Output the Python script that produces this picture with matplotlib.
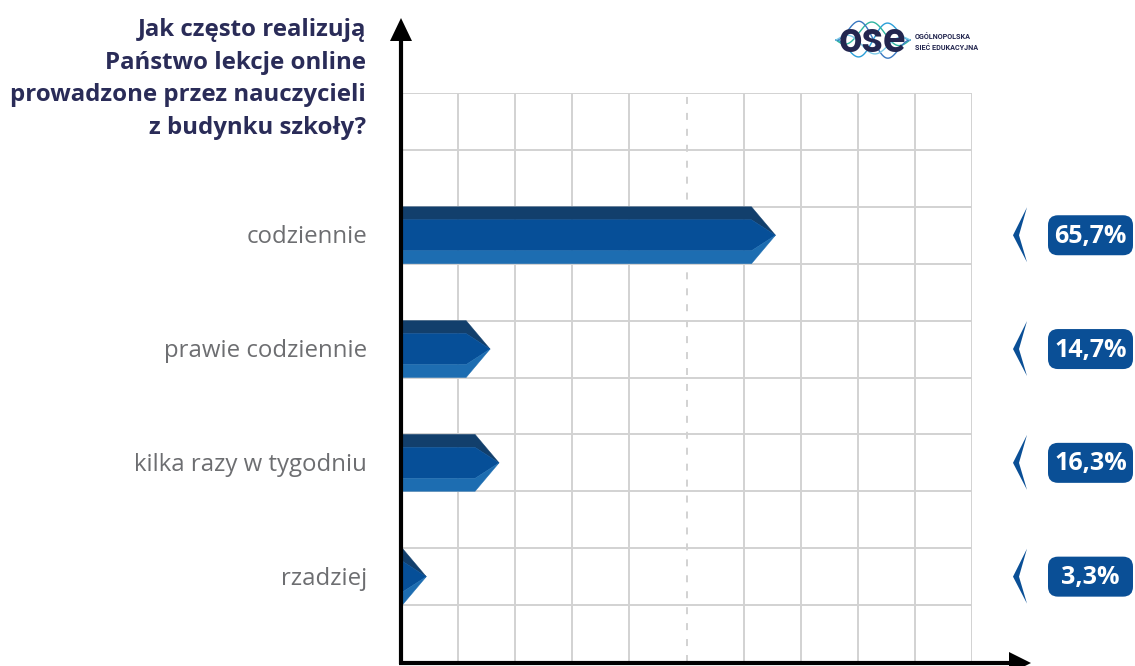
import matplotlib
matplotlib.use('Agg')
import matplotlib.pyplot as plt
from matplotlib.patches import Polygon, FancyBboxPatch
import numpy as np

# ---------------- data ----------------
categories = ['codziennie', 'prawie codziennie', 'kilka razy w tygodniu', 'rzadziej']
values = [65.7, 14.7, 16.3, 3.3]
value_labels = ['65,7%', '14,7%', '16,3%', '3,3%']
title_lines = ['Jak często realizują', 'Państwo lekcje online',
               'prowadzone przez nauczycieli', 'z budynku szkoły?']
row_positions = [7, 5, 3, 1]   # grid cell where each bar sits
logo_lines = ['OGÓLNOPOLSKA', 'SIEĆ EDUKACYJNA']

# ---------------- style ----------------
C_TOP = '#123f6c'
C_MID = '#064f98'
C_BOT = '#1d6db1'
C_BADGE = '#0a4f96'
C_GRID = '#d2d2d2'
C_TITLE = '#2a2c58'
C_LABEL = '#6d6e71'
FONT = ['Open Sans', 'DejaVu Sans']
NARROW = ['Liberation Sans Narrow', 'Roboto', 'DejaVu Sans']

W, H = 1135, 666
fig = plt.figure(figsize=(W / 100, H / 100), dpi=100)
fig.patch.set_facecolor('white')

# plotting area: 0..100 % horizontally, 10 grid cells vertically
ax = fig.add_axes([401 / W, 4 / H, 571 / W, 569 / H])
ax.set_xlim(0, 100)
ax.set_ylim(0, 10)
ax.axis('off')

for i in range(1, 11):
    ls = (0, (3.6, 4.6)) if i == 5 else '-'
    ax.plot([i * 10, i * 10], [0, 10], color=C_GRID, lw=1.4, ls=ls,
            zorder=1, solid_capstyle='butt')
for j in range(1, 11):
    ax.plot([0, 100], [j, j], color=C_GRID, lw=1.4, zorder=1,
            solid_capstyle='butt')

tip_len = 4.2   # length of the arrow tip, in % units
for v, y0 in zip(values, row_positions):
    xt = v * 0.98 + 1.2
    xb = max(xt - tip_len, 0.0)
    a, b, m = y0 + 0.772, y0 + 0.228, y0 + 0.5
    top = [(0, y0 + 1), (xb, y0 + 1), (xt, m), (xb, a), (0, a)]
    mid = [(0, a), (xb, a), (xt, m), (xb, b), (0, b)]
    bot = [(0, b), (xb, b), (xt, m), (xb, y0), (0, y0)]
    for pts, c in ((top, C_TOP), (mid, C_MID), (bot, C_BOT)):
        ax.add_patch(Polygon(pts, closed=True, fc=c, ec=c, lw=0.3, zorder=3))

# ---------------- overlay in pixel coordinates ----------------
ov = fig.add_axes([0, 0, 1, 1], zorder=5)
ov.set_xlim(0, W)
ov.set_ylim(H, 0)
ov.axis('off')
ov.patch.set_alpha(0)

# axes with arrows
ov.plot([401, 401], [664, 38], color='black', lw=3.0, solid_capstyle='butt')
ov.add_patch(Polygon([(390, 41), (412, 41), (401, 18)], closed=True, fc='black', ec='none'))
ov.plot([399, 1012], [663, 663], color='black', lw=3.0, solid_capstyle='butt')
ov.add_patch(Polygon([(1009, 652), (1009, 674), (1031, 663)], closed=True, fc='black', ec='none'))

fig.canvas.draw()
for cat, lab, y0 in zip(categories, value_labels, row_positions):
    yc = H - ax.transData.transform((0, y0 + 0.5))[1]
    ov.text(367, yc + 2, cat, ha='right', va='center', fontsize=17.3,
            color=C_LABEL, family=FONT)
    ov.add_patch(Polygon([(1027, yc - 28), (1013, yc), (1027, yc + 27), (1019, yc)],
                         closed=True, fc=C_BADGE, ec='none'))
    ov.add_patch(FancyBboxPatch((1048, yc - 20), 85, 40,
                                boxstyle='round,pad=0,rounding_size=10',
                                fc=C_BADGE, ec='none'))
    ov.text(1090.5, yc + 1, lab, ha='center', va='center', fontsize=18,
            fontweight='bold', color='white', family=FONT)

# title
for k, line in enumerate(title_lines):
    ov.text(366, 30 + k * 32.7, line, ha='right', va='center', fontsize=17.3,
            fontweight='bold', color=C_TITLE, family=FONT)

# logo
t = np.linspace(836, 910, 200)
s = (t - 836) / 74
for amp, ph, c in ((22, 0.0, '#2b9fd8'), (18, 1.7, '#2fb5a0'), (24, 3.1, '#3a78c0'),
                   (14, 4.5, '#7fcbe8')):
    ov.plot(t, 40 + amp * np.sin(s * 2 * np.pi + ph) * np.sin(s * np.pi),
            color=c, lw=1.0, zorder=1)
ov.text(872, 40, 'ose', ha='center', va='center', fontsize=30, fontweight='bold',
        color='#23264f', family=NARROW, zorder=3)
ov.text(915, 37, logo_lines[0], ha='left', va='center', fontsize=5.2,
        fontweight='bold', color='#23264f', family=NARROW)
ov.text(915, 48, logo_lines[1], ha='left', va='center', fontsize=5.2,
        fontweight='bold', color='#23264f', family=NARROW)

fig.savefig('out.png', dpi=100, facecolor='white')
